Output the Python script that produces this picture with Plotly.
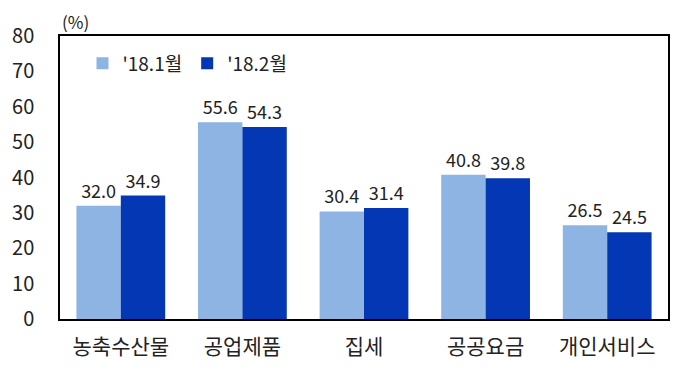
import plotly.graph_objects as go

categories = ["농축수산물", "공업제품", "집세", "공공요금", "개인서비스"]
series_names = ["'18.1월", "'18.2월"]
jan_values = [32.0, 55.6, 30.4, 40.8, 26.5]
feb_values = [34.9, 54.3, 31.4, 39.8, 24.5]
y_ticks = [0, 10, 20, 30, 40, 50, 60, 70, 80]

FONT = "Noto Sans CJK KR, Malgun Gothic, sans-serif"
colors = ["#8DB4E2", "#0437B4"]

fig = go.Figure()
for name, vals, c in zip(series_names, [jan_values, feb_values], colors):
    fig.add_trace(go.Bar(
        x=categories, y=vals, name=name, marker_color=c,
        marker_line_width=0,
        text=[f"{v:.1f}" for v in vals], textposition="outside",
        textfont=dict(family=FONT, size=18, color="#222"),
        cliponaxis=False,
    ))

fig.update_layout(
    width=690, height=372,
    margin=dict(l=57, r=22, t=36, b=53),
    paper_bgcolor="white", plot_bgcolor="white",
    barmode="group", bargap=0.27, bargroupgap=0,
    font=dict(family=FONT, size=18, color="#222"),
    showlegend=True,
    legend=dict(orientation="h", x=0.037, y=0.97, xanchor="left", yanchor="top",
                bgcolor="rgba(0,0,0,0)", font=dict(family=FONT, size=19),
                itemwidth=30, traceorder="normal"),
    xaxis=dict(showline=True, linecolor="black", linewidth=1.5, mirror=True,
               ticks="", tickfont=dict(family=FONT, size=21), showgrid=False,
               ticklabelstandoff=8),
    yaxis=dict(range=[0, 80], tickvals=y_ticks, showline=True, linecolor="black",
               linewidth=1.5, mirror=True, showgrid=False, ticks="",
               tickfont=dict(family=FONT, size=20), ticklabelstandoff=20),
    annotations=[dict(text="(%)", xref="paper", yref="paper", x=0.0, y=1.0,
                      xanchor="left", yanchor="bottom", showarrow=False,
                      font=dict(family=FONT, size=17))],
)

fig.write_html("out.html")
